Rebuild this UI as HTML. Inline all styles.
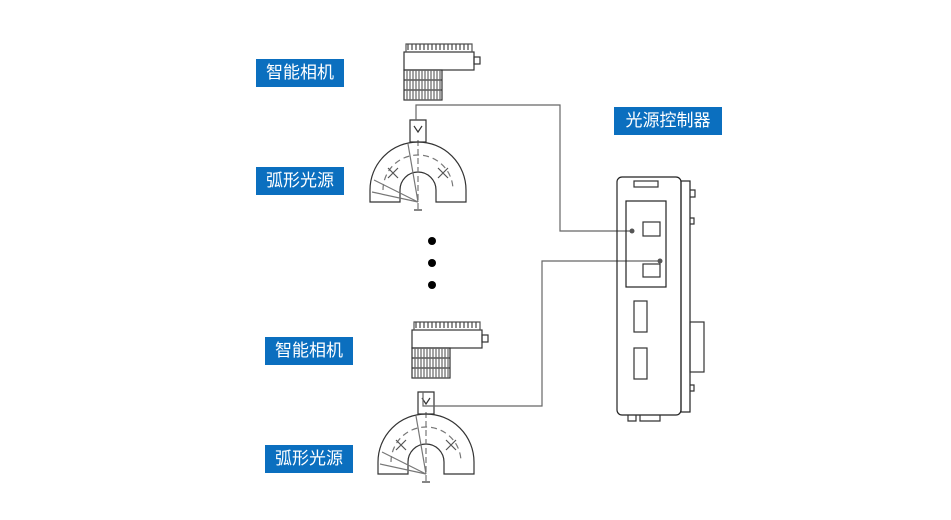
<!DOCTYPE html>
<html><head><meta charset="utf-8"><style>
body{margin:0;background:#fff;}
.l{position:absolute;background:#0b6fbf;color:#fff;font-family:"Liberation Sans","Noto Sans CJK SC",sans-serif;font-size:17px;line-height:28px;text-align:center;}
</style></head><body>
<div style="position:relative;width:951px;height:520px;overflow:hidden">
<div class="l" style="left:256px;top:59px;width:88px">智能相机</div>
<div class="l" style="left:256px;top:167px;width:88px">弧形光源</div>
<div class="l" style="left:614px;top:107px;width:108px">光源控制器</div>
<div class="l" style="left:265px;top:337px;width:88px">智能相机</div>
<div class="l" style="left:265px;top:445px;width:88px">弧形光源</div>
<svg width="951" height="520" style="position:absolute;left:0;top:0" fill="none" stroke="#333" stroke-width="1.2">
<defs>
<g id="cam">
<rect x="0" y="8" width="70" height="18" fill="#fff"/>
<path d="M2 8 V0 h66 V8" stroke="#555"/>
<path d="M4 0 v6 M8 0 v6 M12 0 v6 M16 0 v6 M20 0 v6 M24 0 v6 M28 0 v6 M32 0 v6 M36 0 v6 M40 0 v6 M44 0 v6 M48 0 v6 M52 0 v6 M56 0 v6 M60 0 v6 M64 0 v6" stroke="#444"/>
<rect x="70" y="13" width="6" height="7"/>
<rect x="0" y="26" width="38" height="30"/>
<path d="M0 36 h38 M0 46 h38" />
<path d="M3 26v30M6 26v30M9 26v30M12 26v30M15 26v30M18 26v30M21 26v30M24 26v30M27 26v30M30 26v30M33 26v30M36 26v30" stroke="#666"/>
</g>
<g id="arc">
<path d="M-48 0 A48 48 0 0 1 48 0 V12 H18 V0 A18 18 0 0 0 -18 0 V12 H-48 Z"/>
<path d="M-35 0 A35 35 0 0 1 35 0" stroke-dasharray="6 4" stroke="#777"/>
<path d="M0 -50 V20" stroke-dasharray="6 3" stroke="#777"/>
<path d="M-8 -48 h16 v-22 h-16 z"/>
<path d="M-4 -64 l4 6 l4 -6" />
<path d="M-30 -22 l10 10 M-20 -22 l-10 10 M20 -22 l10 10 M30 -22 l-10 10" stroke="#555"/>
<path d="M-44 -10 L0 12 M-46 2 L0 12 M-10 -46 L0 12" stroke="#777"/>
<path d="M-4 20 h8" />
</g>
</defs>
<use href="#cam" x="404" y="44"/>
<use href="#arc" x="418" y="190"/>
<use href="#cam" x="412" y="322"/>
<use href="#arc" x="426" y="462"/>
<path d="M416 120 V105 H560 V231 H632" stroke="#666"/>
<path d="M423 392 V406 H542 V261 H660" stroke="#666"/>
<circle cx="632" cy="231" r="2.5" fill="#555" stroke="none"/>
<circle cx="660" cy="261" r="2.5" fill="#555" stroke="none"/>
<rect x="617" y="177" width="64" height="238" rx="5" stroke="#222"/>
<rect x="681" y="181" width="9" height="231" stroke="#222"/>
<rect x="634" y="181" width="24" height="6"/>
<rect x="626" y="201" width="40" height="86" stroke="#222"/>
<rect x="643" y="222" width="17" height="14"/>
<rect x="643" y="264" width="17" height="13"/>
<rect x="634" y="301" width="13" height="31"/>
<rect x="634" y="348" width="13" height="31"/>
<path d="M690 190 h5 v7 h-5 M690 218 h4 v6 h-4 M690 385 h4 v6 h-4"/>
<rect x="690" y="322" width="14" height="50"/>
<path d="M628 415 v6 h8 v-6 M640 415 v6 h20 v-6"/>
<circle cx="432" cy="241" r="4" fill="#000" stroke="none"/>
<circle cx="432" cy="263" r="4" fill="#000" stroke="none"/>
<circle cx="432" cy="285" r="4" fill="#000" stroke="none"/>
</svg>
</div>
</body></html>
